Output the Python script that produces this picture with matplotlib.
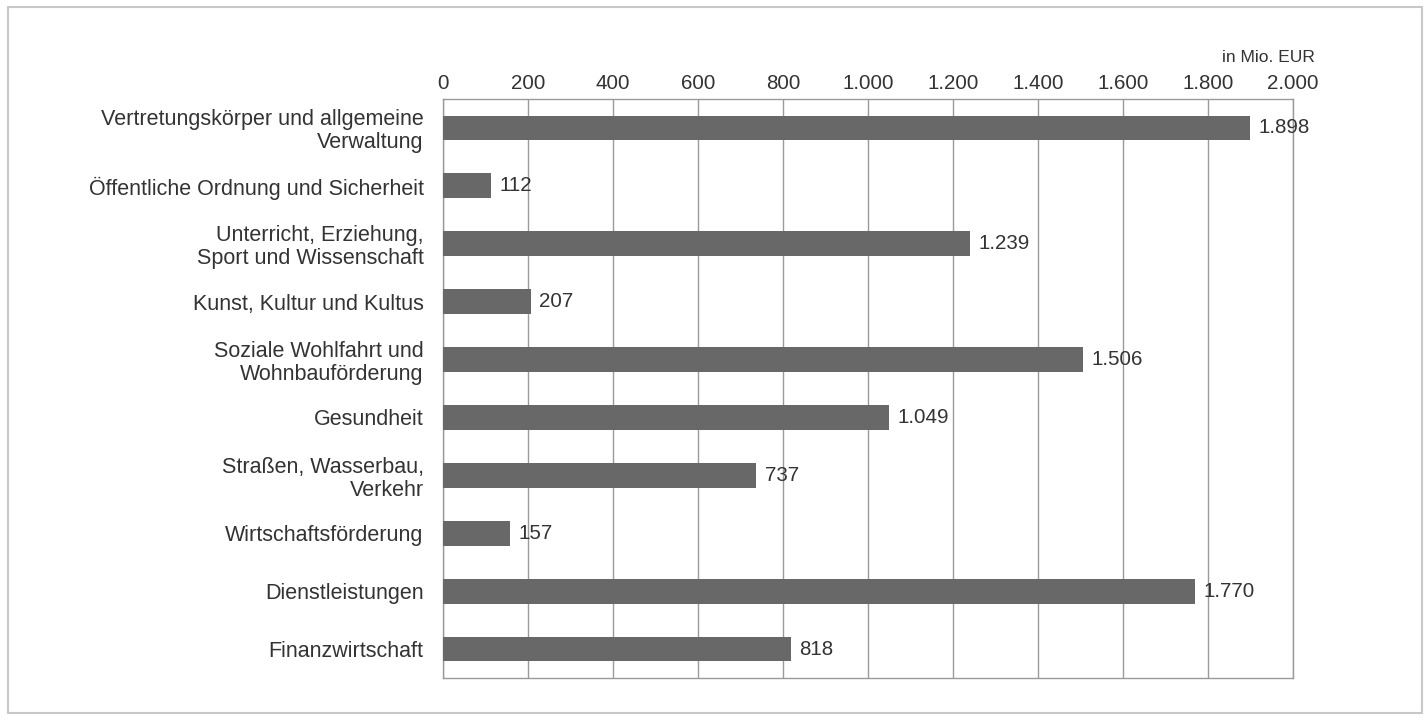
import matplotlib.pyplot as plt
from matplotlib.patches import Rectangle
from matplotlib.ticker import FuncFormatter

# Daten
kategorien = [
    "Vertretungskörper und allgemeine\nVerwaltung",
    "Öffentliche Ordnung und Sicherheit",
    "Unterricht, Erziehung,\nSport und Wissenschaft",
    "Kunst, Kultur und Kultus",
    "Soziale Wohlfahrt und\nWohnbauförderung",
    "Gesundheit",
    "Straßen, Wasserbau,\nVerkehr",
    "Wirtschaftsförderung",
    "Dienstleistungen",
    "Finanzwirtschaft",
]
werte = [1898, 112, 1239, 207, 1506, 1049, 737, 157, 1770, 818]
x_ticks = [0, 200, 400, 600, 800, 1000, 1200, 1400, 1600, 1800, 2000]


def de_format(v, pos=None):
    return f"{int(v):,}".replace(",", ".")


plt.rcParams['font.family'] = ['Liberation Sans', 'DejaVu Sans']
text_farbe = '#333333'
fs = 14.8

fig = plt.figure(figsize=(14.25, 7.21), dpi=100)
fig.patches.append(Rectangle((8 / 1425, 8 / 721), 1414 / 1425, 706 / 721,
                             transform=fig.transFigure, fill=False,
                             edgecolor='#c8c8c8', linewidth=1.5))

ax = fig.add_axes([443 / 1425, 43 / 721, 850 / 1425, 579 / 721])
y = list(range(len(kategorien)))
ax.barh(y, werte, height=0.43, color='#686868', zorder=3)

for yi, w in zip(y, werte):
    ax.text(w + 20, yi, de_format(w), va='center', ha='left',
            fontsize=fs, color=text_farbe, zorder=4)

ax.set_xlim(0, 2000)
ax.set_ylim(len(kategorien) - 0.5, -0.5)
ax.set_xticks(x_ticks)
ax.xaxis.set_major_formatter(FuncFormatter(de_format))
ax.xaxis.tick_top()
ax.set_yticks(y)
ax.set_yticklabels(kategorien, linespacing=1.12, fontsize=15.5)
ax.tick_params(axis='x', length=0, pad=4, labelsize=fs, labelcolor=text_farbe)
ax.tick_params(axis='y', length=0, pad=14, labelcolor=text_farbe)
ax.grid(axis='x', color='#9a9a9a', linewidth=1, zorder=0)
for s in ax.spines.values():
    s.set_color('#9a9a9a')
    s.set_linewidth(1)

fig.text(1315 / 1425, 1 - 58 / 721, "in Mio. EUR", ha='right', va='center',
         fontsize=12.5, color=text_farbe)

fig.savefig('out.png', dpi=100)
